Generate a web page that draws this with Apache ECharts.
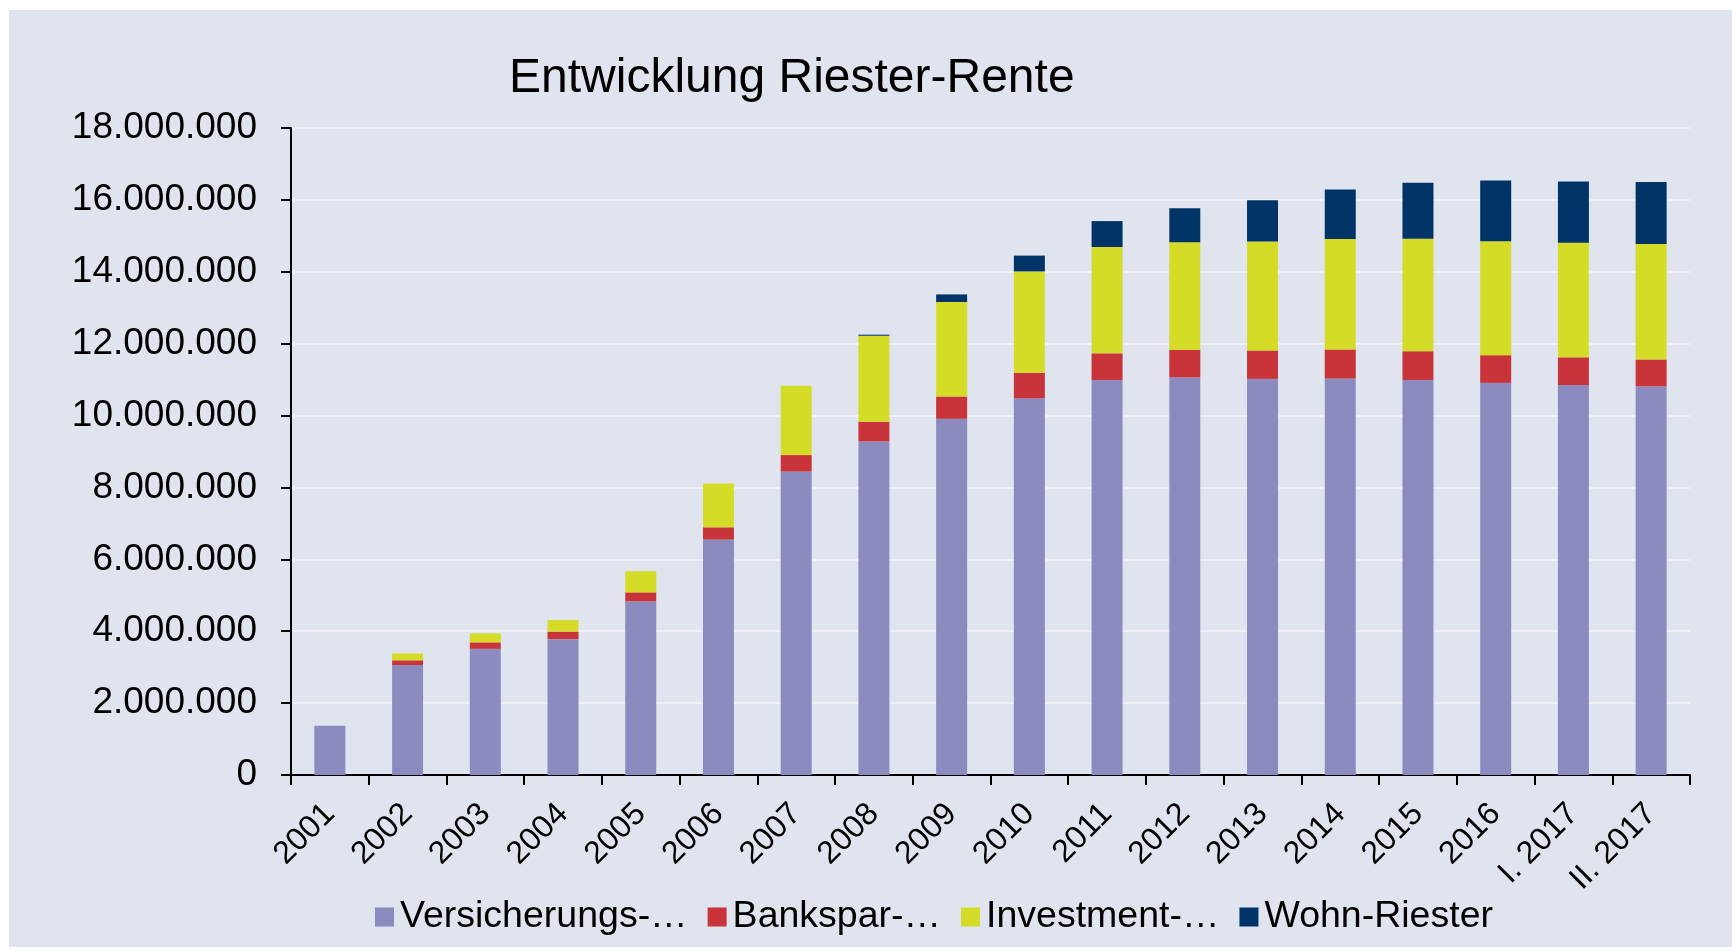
<!DOCTYPE html>
<html>
<head>
<meta charset="utf-8">
<script src="https://cdn.jsdelivr.net/npm/echarts@6/dist/echarts.min.js"></script>
<style>
  html, body { margin: 0; padding: 0; background: #ffffff; }
  #bg { position: absolute; left: 9px; top: 10px; width: 1723px; height: 937px; background: #E0E4EE; }
  #chart { position: absolute; left: 0; top: 0; width: 1732px; height: 951px; }
</style>
</head>
<body>
<div id="bg"></div>
<div id="chart"></div>
<script>
const categories = ['2001','2002','2003','2004','2005','2006','2007','2008','2009','2010','2011','2012','2013','2014','2015','2016','I. 2017','II. 2017'];
const versicherung = [1370000,3060000,3510000,3780000,4830000,6550000,8440000,9280000,9910000,10480000,10990000,11060000,11020000,11030000,10990000,10910000,10850000,10810000];
const bankspar     = [0,130000,180000,210000,250000,340000,460000,550000,620000,710000,740000,770000,790000,810000,800000,770000,770000,750000];
const investment   = [0,190000,250000,320000,590000,1220000,1930000,2390000,2630000,2820000,2960000,2990000,3030000,3070000,3130000,3170000,3190000,3210000];
const wohnRiester  = [0,0,0,0,0,0,0,30000,210000,440000,720000,950000,1150000,1380000,1560000,1690000,1700000,1730000];
const yTicks = { min: 0, max: 18000000, interval: 2000000 };
const seriesNames = ['Versicherungs-…','Bankspar-…','Investment-…','Wohn-Riester'];
const colors = ['#8C8BBF','#C8343A','#D4DC28','#003366'];

const font = '"Liberation Sans", Arial, sans-serif';
const fmt = v => String(v).replace(/\B(?=(\d{3})+(?!\d))/g, '.');

const chart = echarts.init(document.getElementById('chart'), null, { renderer: 'canvas' });
const dataSets = [versicherung, bankspar, investment, wohnRiester];
chart.setOption({
  backgroundColor: 'transparent',
  animation: false,
  title: {
    text: 'Entwicklung Riester-Rente',
    left: 504, top: 50,
    textStyle: { fontFamily: font, fontSize: 48, fontWeight: 'normal', color: '#000' }
  },
  legend: {
    data: seriesNames,
    left: 375, top: 898,
    itemWidth: 19, itemHeight: 19, itemGap: 20,
    icon: 'rect',
    padding: 0,
    textStyle: { fontFamily: font, fontSize: 37.5, color: '#000', padding: [0,0,0,1] }
  },
  grid: { left: 291, right: 42, top: 128, bottom: 176, containLabel: false },
  xAxis: {
    type: 'category',
    data: categories,
    boundaryGap: true,
    axisLine: { lineStyle: { color: '#000', width: 2 } },
    axisTick: { show: true, length: 10, interval: 0, lineStyle: { color: '#000', width: 2 } },
    axisLabel: { interval: 0, rotate: 45, margin: 34, fontFamily: font, fontSize: 32, color: '#000' }
  },
  yAxis: {
    type: 'value',
    min: yTicks.min, max: yTicks.max, interval: yTicks.interval,
    axisLine: { show: true, lineStyle: { color: '#000', width: 2 } },
    axisTick: { show: true, length: 10, lineStyle: { color: '#000', width: 2 } },
    axisLabel: { margin: 34, fontFamily: font, fontSize: 37, color: '#000', formatter: fmt },
    splitLine: { show: true, lineStyle: { color: '#EEF0F6', width: 2 } }
  },
  series: seriesNames.map((name, i) => ({
    name: name,
    type: 'bar',
    stack: 'total',
    barWidth: 31,
    data: dataSets[i],
    itemStyle: { color: colors[i] }
  }))
});
</script>
</body>
</html>
